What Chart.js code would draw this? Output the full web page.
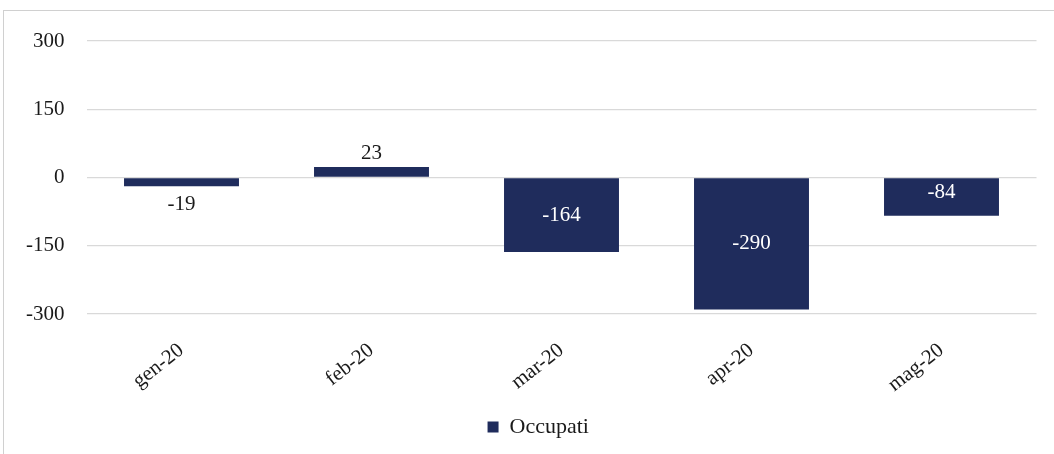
<!DOCTYPE html>
<html>
<head>
<meta charset="utf-8">
<script src="https://cdn.jsdelivr.net/npm/chart.js@4"></script>
<style>
  html, body { margin: 0; padding: 0; background: #fff; overflow: hidden; }
  #wrap { position: relative; width: 1054px; height: 454px; }
  #frame { position: absolute; left: 3px; top: 10px; width: 1100px; height: 500px; border: 1px solid #d0d0d0; box-sizing: border-box; }
  canvas { position: absolute; left: 0; top: 0; }
</style>
</head>
<body>
<div id="wrap">
  <div id="frame"></div>
  <canvas id="chart" width="1054" height="454"></canvas>
</div>
<script>
const months = ['gen-20', 'feb-20', 'mar-20', 'apr-20', 'mag-20'];
const occupati = [-19, 23, -164, -290, -84];
const yTicks = [-300, -150, 0, 150, 300];

const FONT = '"Liberation Serif", "DejaVu Serif", serif';
const NAVY = '#1f2c5c';
const TEXT = '#1a1a1a';

// value labels: small bars outside, medium ones at the base, big ones centred
const valueLabels = {
  id: 'valueLabels',
  afterDatasetsDraw(chart) {
    const ctx = chart.ctx;
    const meta = chart.getDatasetMeta(0);
    ctx.save();
    ctx.font = '21px ' + FONT;
    ctx.textAlign = 'center';
    ctx.textBaseline = 'middle';
    meta.data.forEach((bar, i) => {
      const v = occupati[i];
      const h = Math.abs(bar.base - bar.y);
      let y, color;
      if (h < 25) {
        y = v < 0 ? bar.y + 18 : bar.y - 14;
        color = TEXT;
      } else if (h < 60) {
        y = bar.base + 14;
        color = '#ffffff';
      } else {
        y = (bar.y + bar.base) / 2;
        color = '#ffffff';
      }
      ctx.fillStyle = color;
      ctx.fillText(String(v), bar.x, y);
    });
    ctx.restore();
  }
};

// the legend sits centred under the whole frame, not only the plot
const legendShift = {
  id: 'legendShift',
  afterLayout(chart) {
    if (chart.legend) chart.legend.left += 40;
  }
};

const ctx = document.getElementById('chart').getContext('2d');
new Chart(ctx, {
  type: 'bar',
  data: {
    labels: months,
    datasets: [{
      label: 'Occupati',
      data: occupati,
      backgroundColor: NAVY,
      borderWidth: 0,
      categoryPercentage: 1,
      barPercentage: 0.605
    }]
  },
  options: {
    responsive: false,
    animation: false,
    layout: { padding: { top: 41, right: 17.5, bottom: 6, left: 0 } },
    scales: {
      x: {
        grid: { display: false, drawTicks: false },
        border: { display: false },
        ticks: {
          color: TEXT,
          font: { family: FONT, size: 21 },
          minRotation: 38,
          maxRotation: 38,
          padding: 24
        },
        afterFit: (s) => { s.height = 92; }
      },
      y: {
        min: -300,
        max: 300,
        afterBuildTicks: (s) => { s.ticks = yTicks.map(v => ({ value: v })); },
        grid: { color: '#d9d9d9', lineWidth: 1.3, drawTicks: false },
        border: { display: false },
        ticks: {
          color: TEXT,
          font: { family: FONT, size: 21 },
          padding: 22
        },
        afterFit: (s) => { s.width = 86.5; }
      }
    },
    plugins: {
      legend: {
        position: 'bottom',
        labels: {
          color: TEXT,
          font: { family: FONT, size: 22 },
          boxWidth: 11,
          boxHeight: 11,
          padding: 10
        }
      },
      tooltip: { enabled: false }
    }
  },
  plugins: [valueLabels, legendShift]
});
</script>
</body>
</html>
